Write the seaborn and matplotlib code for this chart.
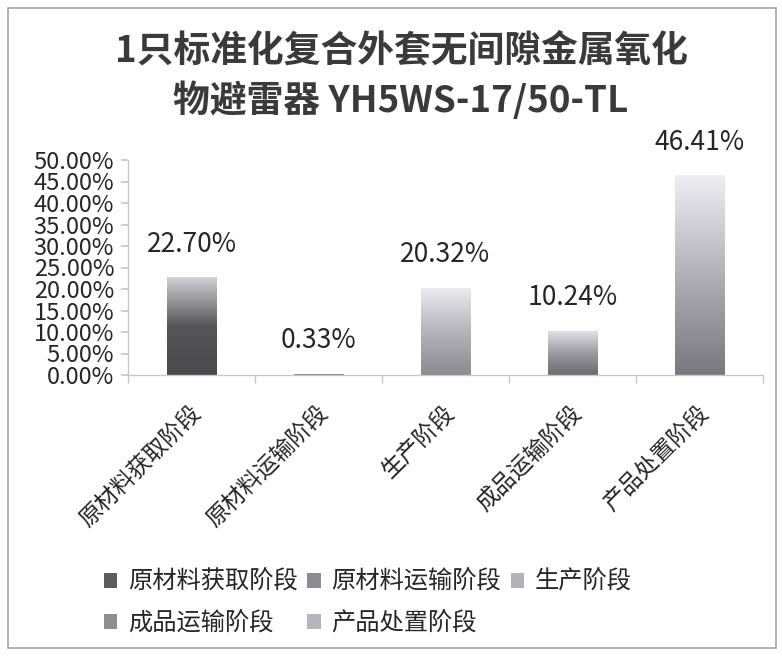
import numpy as np
import pandas as pd
import matplotlib
matplotlib.use('Agg')
import matplotlib.pyplot as plt
import matplotlib.transforms as mtrans
from matplotlib.colors import LinearSegmentedColormap
from matplotlib.patches import Patch, Rectangle
import seaborn as sns

# data
stages = ['原材料获取阶段', '原材料运输阶段', '生产阶段', '成品运输阶段', '产品处置阶段']
shares = [22.70, 0.33, 20.32, 10.24, 46.41]
y_ticks = [0, 5, 10, 15, 20, 25, 30, 35, 40, 45, 50]
title_lines = ['1只标准化复合外套无间隙金属氧化', '物避雷器 YH5WS-17/50-TL']

# gradient colours per bar (bottom, middle, top)
grad_cols = [
    ['#4a4a4e', '#55555a', '#d2d2d6'],
    ['#6e6e74', '#9a9aa0', '#dcdce2'],
    ['#8a8a90', '#b4b4ba', '#ececf2'],
    ['#6a6a70', '#9c9ca2', '#e4e4ea'],
    ['#78787e', '#b0b0b6', '#eeeef4'],
]
legend_cols = ['#5c5c60', '#8c8c92', '#b2b2b8', '#8e8e94', '#b6b6bc']

sns.set_theme(style='white')
plt.rcParams['font.family'] = ['Noto Sans CJK SC', 'DejaVu Sans']
txt = '#262626'

fig = plt.figure(figsize=(7.82, 6.56), dpi=100)
fig.patches.append(Rectangle((8/782, 8/656), 768/782, 640/656, transform=fig.transFigure,
                             fill=False, edgecolor='#a6a6a6', linewidth=1.2))

ax = fig.add_axes([128/782, 1-375/656, 635/782, 215/656])
df = pd.DataFrame({'stage': stages, 'share': shares})
sns.barplot(data=df, x='stage', y='share', ax=ax, width=0.39, color='gray')

# gradient fills clipped to the bars
for patch, cols in zip(ax.patches, grad_cols):
    x0 = patch.get_x()
    w = patch.get_width()
    h = patch.get_height()
    cmap = LinearSegmentedColormap.from_list('g', cols)
    grad = np.linspace(0, 1, 256).reshape(-1, 1)
    im = ax.imshow(grad, extent=[x0, x0+w, 0, h], origin='lower', cmap=cmap,
                   aspect='auto', zorder=patch.get_zorder())
    im.set_clip_path(patch)
    patch.set_facecolor('none')
    patch.set_edgecolor('none')

ax.set_xlim(-0.5, len(stages)-0.5)
ax.set_ylim(0, 50)

for i, v in enumerate(shares):
    ax.annotate(f'{v:.2f}%', (i, v), xytext=(0, 24), textcoords='offset points',
                ha='center', va='center', fontsize=19, color=txt)

ax.set_yticks(y_ticks)
ax.set_yticklabels([f'{t:.2f}%' for t in y_ticks], fontsize=17, color=txt)
ax.set_xticks(range(len(stages)))
ax.set_xticks(np.arange(-0.5, len(stages)), minor=True)
ax.set_xlabel('')
ax.set_ylabel('')

for s in ['top', 'right']:
    ax.spines[s].set_visible(False)
for s in ['left', 'bottom']:
    ax.spines[s].set_color('#c8c8c8')
    ax.spines[s].set_linewidth(1.0)

ax.tick_params(axis='y', which='major', left=True, length=5, color='#c8c8c8', pad=5)
ax.tick_params(axis='x', which='major', bottom=False, length=0, pad=25)
ax.tick_params(axis='x', which='minor', bottom=True, length=6, color='#c8c8c8')

ax.set_xticklabels(stages, rotation=45, ha='right', va='center', rotation_mode='anchor',
                   fontsize=16.6, color=txt)
shift = mtrans.ScaledTranslation(6/100, 0, fig.dpi_scale_trans)
for lab in ax.get_xticklabels():
    lab.set_transform(lab.get_transform() + shift)

fig.text(401/782, 1-51/656, title_lines[0], ha='center', va='center',
         fontsize=26.5, fontweight='bold', color='#3a3a3a')
fig.text(401/782, 1-101/656, title_lines[1], ha='center', va='center',
         fontsize=26.5, fontweight='bold', color='#3a3a3a')

handles = [Patch(facecolor=c, edgecolor='none') for c in legend_cols]
order = [0, 3, 1, 4, 2]
fig.legend([handles[k] for k in order], [stages[k] for k in order], ncol=3,
           loc='upper left', bbox_to_anchor=(104/782, 1-569/656), frameon=False,
           fontsize=17.5, handlelength=0.55, handleheight=0.55, handletextpad=0.45,
           columnspacing=0.38, labelspacing=0.62, borderpad=0, borderaxespad=0,
           labelcolor=txt)

fig.savefig('out.png', dpi=100, facecolor='white')
